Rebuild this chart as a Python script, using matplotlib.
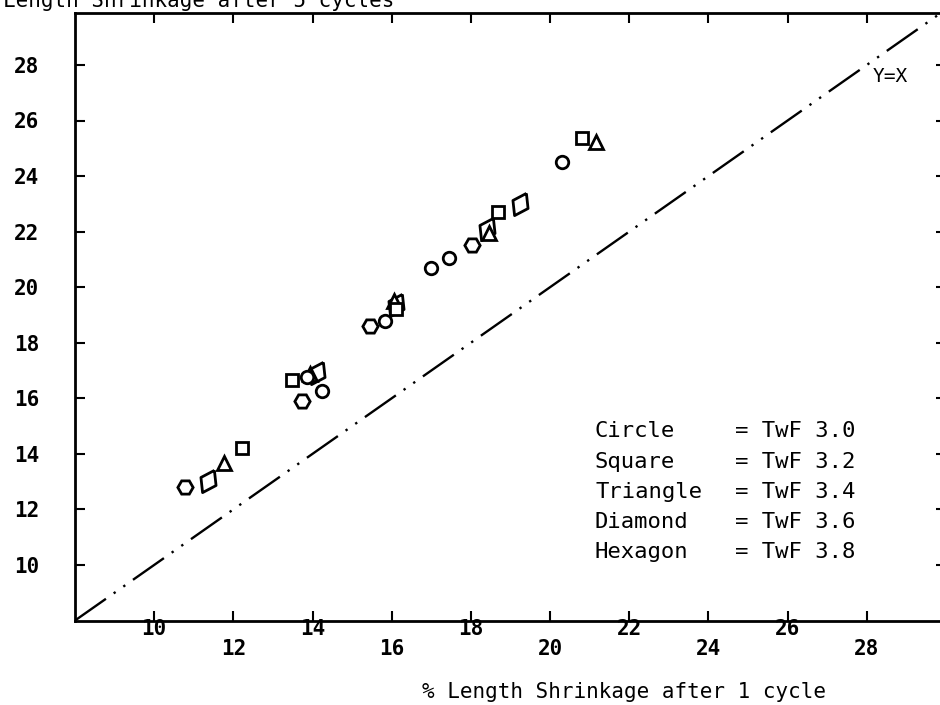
import numpy as np
import matplotlib
matplotlib.use("Agg")
import matplotlib.pyplot as plt
from matplotlib.ticker import FixedLocator, FixedFormatter

# % length shrinkage: after 1 cycle (x) vs after 5 cycles (y), one series per TwF
circle_x = [13.85, 14.25, 15.84, 16.98, 17.44, 20.30]
circle_y = [16.78, 16.25, 18.77, 20.69, 21.05, 24.49]

square_x = [12.22, 13.48, 16.10, 18.69, 20.81]
square_y = [14.21, 16.67, 19.20, 22.72, 25.36]

triangle_x = [11.76, 13.93, 16.05, 18.45, 21.16]
triangle_y = [13.67, 16.86, 19.50, 21.95, 25.24]

diamond_x = [11.36, 14.12, 16.12, 18.40, 19.23]
diamond_y = [13.01, 16.91, 19.35, 22.10, 23.00]

hexagon_x = [10.79, 13.74, 15.46, 18.03]
hexagon_y = [12.81, 15.89, 18.59, 21.53]

legend_names = ["Circle", "Square", "Triangle", "Diamond", "Hexagon"]
legend_twf = ["3.0", "3.2", "3.4", "3.6", "3.8"]

x_upper_ticks = [10, 14, 18, 22, 26]
x_lower_ticks = [12, 16, 20, 24, 28]
y_ticks = [10, 12, 14, 16, 18, 20, 22, 24, 26, 28]

plt.rcParams['font.family'] = ['DejaVu Sans Mono', 'DejaVu Sans']

W, H = 940, 705
fig = plt.figure(figsize=(W / 100, H / 100), dpi=100)


def px(x, y):
    # pixel position (from top-left) -> figure fraction
    return x / W, 1 - y / H


ax = fig.add_axes([75 / W, (H - 620.5) / H, 871 / W, (620.5 - 13) / H])
ax.set_xlim(8, 30)
ax.set_ylim(8, 29.87)

# the Y = X reference line
ax.plot([8, 30], [8, 30], color='black', lw=1.7,
        linestyle=(0, (16, 4, 1, 4, 1, 4)))

# slanted diamond outline, leaning to the right
ang = np.deg2rad(-28)
base = np.array([[0, 1], [0.68, 0], [0, -1], [-0.68, 0], [0, 1]])
rot = np.array([[np.cos(ang), -np.sin(ang)], [np.sin(ang), np.cos(ang)]])
slanted_diamond = base @ rot.T

mk = dict(linestyle='none', markerfacecolor='white', markeredgecolor='black',
          markeredgewidth=2.0)

ax.plot(hexagon_x, hexagon_y, marker='H', markersize=11, **mk)
ax.plot(diamond_x, diamond_y, marker=slanted_diamond, markersize=16, **mk)
ax.plot(triangle_x, triangle_y, marker='^', markersize=9.5, **mk)
ax.plot(square_x, square_y, marker='s', markersize=8, **mk)
ax.plot(circle_x, circle_y, marker='o', markersize=9, **mk)

for side in ax.spines.values():
    side.set_linewidth(2)

# staggered x labels: two rows of tick labels
ax.xaxis.set_major_locator(FixedLocator(x_upper_ticks))
ax.xaxis.set_major_formatter(FixedFormatter([str(v) for v in x_upper_ticks]))
ax.xaxis.set_minor_locator(FixedLocator(x_lower_ticks))
ax.xaxis.set_minor_formatter(FixedFormatter([str(v) for v in x_lower_ticks]))
ax.set_yticks(y_ticks)
ax.set_yticklabels([str(v) for v in y_ticks])

ax.tick_params(axis='both', which='both', direction='in', length=7, width=1.5,
               top=True, right=True, labelsize=15)
ax.tick_params(axis='x', which='major', pad=-1)
ax.tick_params(axis='x', which='minor', pad=13)
ax.tick_params(axis='y', pad=26)
for lbl in ax.get_xticklabels(which='both') + ax.get_yticklabels():
    lbl.set_fontweight('bold')

fig.text(*px(624, 692), "% Length Shrinkage after 1 cycle", fontsize=15,
         ha='center', va='center')
fig.text(*px(3, 7), "Length Shrinkage after 5 cycles", fontsize=15,
         ha='left', va='baseline')
fig.text(*px(890, 76), "Y=X", fontsize=14, ha='center', va='center')

row_y = [431, 461.5, 491.5, 521.5, 552]
for name, twf, yy in zip(legend_names, legend_twf, row_y):
    fig.text(*px(595, yy), name, fontsize=16, ha='left', va='center')
    fig.text(*px(735, yy), "= TwF " + twf, fontsize=16, ha='left', va='center')

fig.savefig("out.png", dpi=100)
